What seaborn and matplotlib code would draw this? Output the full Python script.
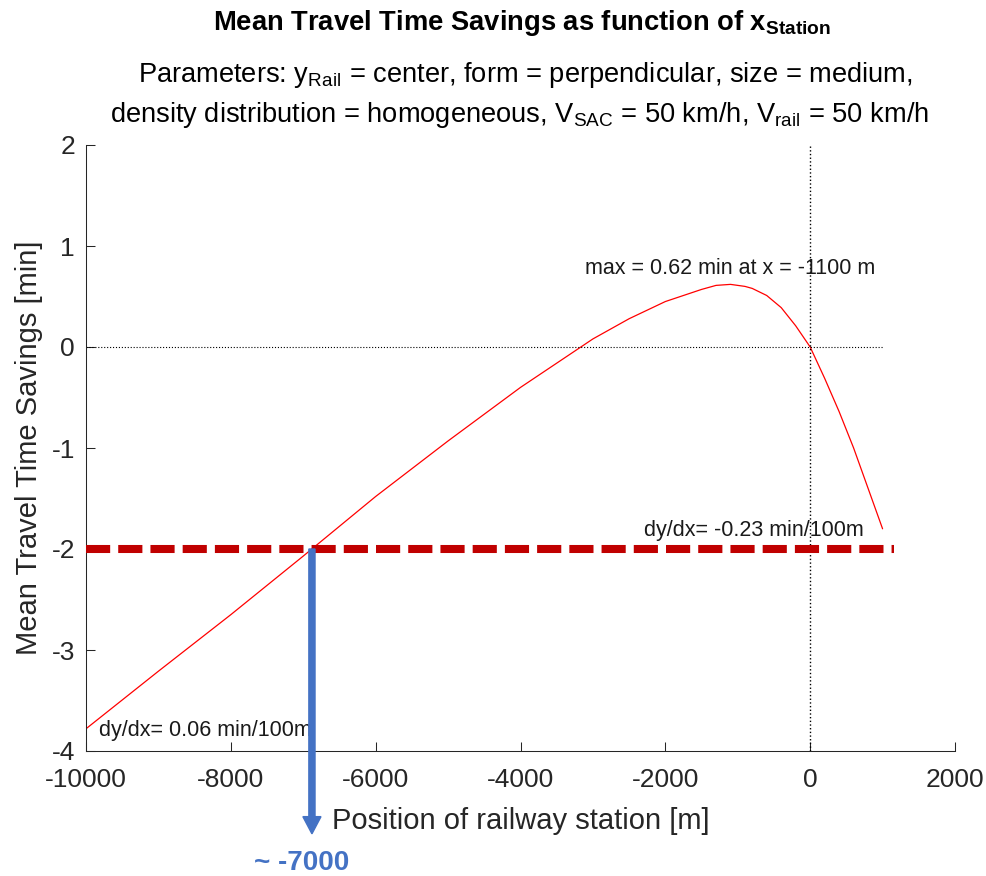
import numpy as np
import pandas as pd
import matplotlib
matplotlib.use("Agg")
import matplotlib.pyplot as plt
import seaborn as sns

# values
station_x = [-10000, -9000, -8000, -7000, -6000, -5000, -4000, -3000, -2500,
             -2000, -1500, -1300, -1100, -900, -800, -600, -400, -200, 0,
             200, 400, 600, 800, 1000]
savings = [-3.78, -3.21, -2.65, -2.07, -1.48, -0.93, -0.40, 0.08, 0.28,
           0.45, 0.57, 0.61, 0.62, 0.60, 0.58, 0.51, 0.39, 0.21, 0.0,
           -0.31, -0.64, -1.00, -1.40, -1.80]

x_ticks = [-10000, -8000, -6000, -4000, -2000, 0, 2000]
y_ticks = [-4, -3, -2, -1, 0, 1, 2]

threshold_y = -2.0
threshold_x_end = 1160
crossing_x = -6880
arrow_tip_y = -4.82
max_x, max_y = -1100, 0.62

AX_COLOR = "#262626"
RED_DASH = "#C00000"
BLUE = "#4472C4"

sns.set_theme(style="ticks")
plt.rcParams["font.family"] = ["Liberation Sans", "DejaVu Sans"]
plt.rcParams["mathtext.fontset"] = "custom"
plt.rcParams["mathtext.rm"] = "Liberation Sans"
plt.rcParams["mathtext.bf"] = "Liberation Sans:bold"
plt.rcParams["axes.unicode_minus"] = False

W, H = 986, 876
fig = plt.figure(figsize=(W / 100, H / 100), dpi=100)
ax = fig.add_axes([86 / W, (H - 751) / H, (955 - 86) / W, (751 - 145) / H])

df = pd.DataFrame({"x": station_x, "y": savings})
sns.lineplot(data=df, x="x", y="y", ax=ax, color="red", lw=0.9)

# reference lines
ax.plot([station_x[0], station_x[-1]], [0, 0], color="black", lw=0.8, ls=":")
ax.plot([0, 0], [-4, 2], color="black", lw=1.0, ls=":")

ax.set_xlim(-10000, 2000)
ax.set_ylim(-4, 2)
ax.set_xticks(x_ticks)
ax.set_yticks(y_ticks)
ax.tick_params(direction="in", length=6.5, width=0.75, colors=AX_COLOR,
               labelsize=19)
ax.tick_params(axis="x", pad=12)
ax.tick_params(axis="y", pad=8)
sns.despine(ax=ax)
for s in ["left", "bottom"]:
    ax.spines[s].set_color(AX_COLOR)
    ax.spines[s].set_linewidth(0.75)

ax.set_xlabel("Position of railway station [m]", fontsize=21, color=AX_COLOR,
              labelpad=11)
ax.set_ylabel("Mean Travel Time Savings [min]", fontsize=21, color=AX_COLOR,
              labelpad=6)

# annotations
ax.text(max_x, 0.78, f"max = {max_y:.2f} min at x = {max_x} m", ha="center",
        va="center", fontsize=15.5, color="#1a1a1a")
ax.text(-9820, -3.80, "dy/dx= 0.06 min/100m", ha="left", va="center",
        fontsize=15.5, color="#1a1a1a")
ax.text(-2300, -1.82, "dy/dx= -0.23 min/100m", ha="left", va="center",
        fontsize=15.5, color="#1a1a1a")

# overlay: threshold line + arrow
ax.plot([-10000, threshold_x_end], [threshold_y, threshold_y], color=RED_DASH,
        lw=5.8, ls=(0, (3, 1)), solid_capstyle="butt", dash_capstyle="butt",
        clip_on=False, zorder=4)
ax.arrow(crossing_x, threshold_y, 0, arrow_tip_y - threshold_y, width=85,
         head_width=250, head_length=0.17, length_includes_head=True,
         color=BLUE, clip_on=False, zorder=5)
ax.text(crossing_x - 140, -5.11, "~ -7000", ha="center", va="center",
        fontsize=20, fontweight="bold", color=BLUE, clip_on=False)

# titles
fig.text(522 / W, 1 - 30 / H,
         r"Mean Travel Time Savings as function of $\mathbf{x_{Station}}$",
         ha="center", va="baseline", fontsize=19.7, fontweight="bold",
         color="black")
fig.text(525 / W, 1 - 82 / H,
         r"Parameters: $\mathregular{y_{Rail}}$ = center, form = perpendicular, size = medium,",
         ha="center", va="baseline", fontsize=19.6, color="black")
fig.text(519 / W, 1 - 122 / H,
         r"density distribution = homogeneous, $\mathregular{V_{SAC}}$ = 50 km/h, $\mathregular{V_{rail}}$ = 50 km/h",
         ha="center", va="baseline", fontsize=19.6, color="black")

fig.savefig("out.png", dpi=100, facecolor="white")
